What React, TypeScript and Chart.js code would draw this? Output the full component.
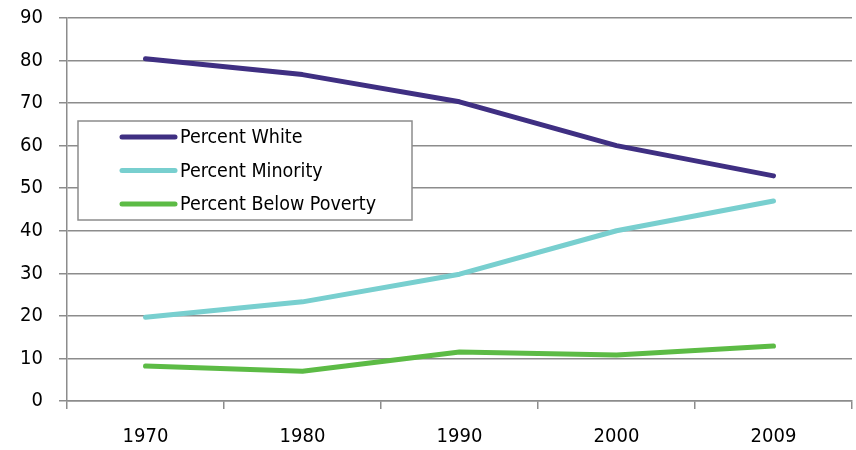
import React, { useEffect, useRef } from "react";
import { Chart, registerables } from "chart.js";

Chart.register(...registerables);

const years = ["1970", "1980", "1990", "2000", "2009"];
const percentWhite = [80.4, 76.7, 70.3, 60.0, 52.9];
const percentMinority = [19.7, 23.3, 29.8, 40.0, 47.0];
const percentPoverty = [8.2, 7.0, 11.5, 10.8, 12.9];
const seriesLabels = ["Percent White", "Percent Minority", "Percent Below Poverty"];
const seriesColors = ["#3F2F82", "#78CFCF", "#5CBB45"];

const FONT = "'DejaVu Sans Condensed', sans-serif";
const GRID = "#8C8C8C";

const boxLegend = {
  id: "boxLegend",
  afterDatasetsDraw(chart: any) {
    const { ctx } = chart;
    const x0 = 78;
    const y0 = 121;
    const w = 334;
    const h = 99;
    ctx.save();
    ctx.fillStyle = "#ffffff";
    ctx.fillRect(x0, y0, w, h);
    ctx.strokeStyle = GRID;
    ctx.lineWidth = 1.5;
    ctx.strokeRect(x0, y0, w, h);
    ctx.font = "19.5px " + FONT;
    ctx.textBaseline = "middle";
    ctx.textAlign = "left";
    chart.data.datasets.forEach((ds: any, i: number) => {
      const cy = y0 + 16 + i * 33.5;
      ctx.strokeStyle = ds.borderColor;
      ctx.lineWidth = 5;
      ctx.lineCap = "round";
      ctx.beginPath();
      ctx.moveTo(x0 + 44, cy);
      ctx.lineTo(x0 + 97, cy);
      ctx.stroke();
      ctx.fillStyle = "#000000";
      ctx.fillText(ds.label, x0 + 102, cy + 1);
    });
    ctx.restore();
  },
};

export default function App() {
  const ref = useRef<HTMLCanvasElement | null>(null);
  useEffect(() => {
    document.body.style.margin = "0";
    const values = [percentWhite, percentMinority, percentPoverty];
    const chart = new Chart(ref.current as HTMLCanvasElement, {
      type: "line",
      data: {
        labels: years,
        datasets: values.map((v, i) => ({
          label: seriesLabels[i],
          data: v,
          borderColor: seriesColors[i],
          backgroundColor: seriesColors[i],
          borderWidth: 5,
          borderCapStyle: "round",
          borderJoinStyle: "round",
          pointRadius: 0,
          tension: 0,
        })),
      },
      options: {
        responsive: false,
        animation: false,
        layout: { padding: { top: 18, right: 4, left: 0, bottom: 0 } },
        plugins: { legend: { display: false }, tooltip: { enabled: false } },
        scales: {
          x: {
            type: "category",
            offset: true,
            grid: {
              offset: true,
              drawOnChartArea: false,
              drawTicks: true,
              tickLength: 8,
              color: GRID,
              lineWidth: 1.5,
            },
            border: { display: true, color: GRID, width: 1.5 },
            ticks: { color: "#000", font: { family: FONT, size: 20 }, padding: 16 },
            afterFit(scale: any) {
              scale.height = 49;
              scale.paddingLeft = 0;
              scale.paddingRight = 0;
            },
          },
          y: {
            min: 0,
            max: 90,
            ticks: { stepSize: 10, color: "#000", font: { family: FONT, size: 20 }, padding: 16 },
            grid: { color: GRID, lineWidth: 1.5, tickLength: 8 },
            border: { display: true, color: GRID, width: 1.5 },
            afterFit(scale: any) {
              scale.width = 67;
              scale.paddingTop = 0;
              scale.paddingBottom = 0;
            },
          },
        },
      },
      plugins: [boxLegend],
    } as any);
    return () => chart.destroy();
  }, []);
  return (
    <div style={{ width: 856, height: 450, background: "#fff" }}>
      <canvas ref={ref} width={856} height={450} />
    </div>
  );
}
